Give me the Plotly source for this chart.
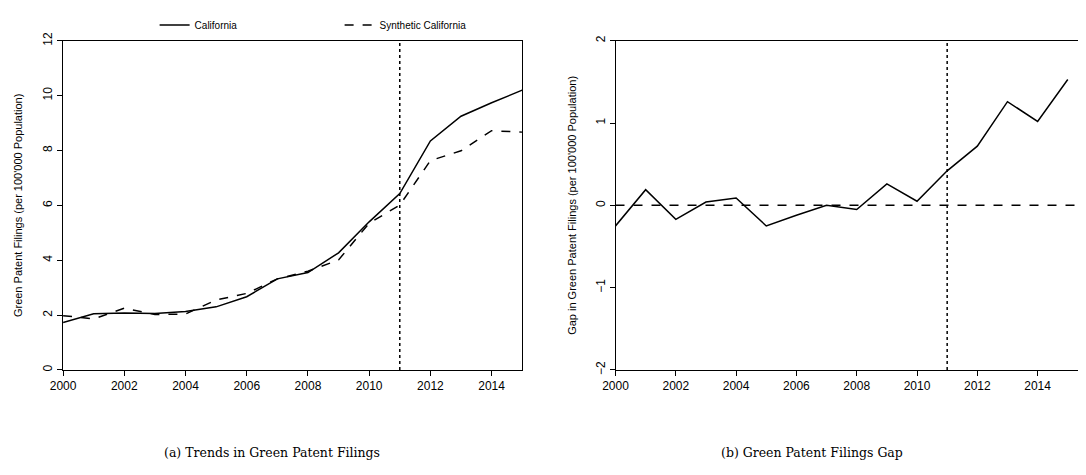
import plotly.graph_objects as go

years = list(range(2000, 2016))
california = [1.73, 2.05, 2.08, 2.06, 2.13, 2.30, 2.67, 3.32, 3.55, 4.27, 5.40, 6.43, 8.35, 9.25, 9.74, 10.20]
synthetic = [1.98, 1.86, 2.25, 2.02, 2.04, 2.55, 2.79, 3.32, 3.60, 4.01, 5.35, 6.01, 7.63, 7.99, 8.72, 8.67]
gap = [-0.25, 0.19, -0.17, 0.04, 0.09, -0.25, -0.12, 0.00, -0.05, 0.26, 0.05, 0.42, 0.72, 1.26, 1.02, 1.53]
treat_year = 2011

font = dict(family="Liberation Sans, Arial", size=12, color="black")
fig = go.Figure()

fig.add_trace(go.Scatter(x=years, y=california, mode="lines", name="California",
                         line=dict(color="black", width=1.5), xaxis="x", yaxis="y"))
fig.add_trace(go.Scatter(x=years, y=synthetic, mode="lines", name="Synthetic California",
                         line=dict(color="black", width=1.5, dash="dash"), xaxis="x", yaxis="y"))
fig.add_trace(go.Scatter(x=years, y=gap, mode="lines", showlegend=False,
                         line=dict(color="black", width=1.5), xaxis="x2", yaxis="y2"))

# reference lines
fig.add_shape(type="line", xref="x", yref="y", x0=treat_year, x1=treat_year, y0=0, y1=12,
              line=dict(color="black", width=1.5, dash="dot"))
fig.add_shape(type="line", xref="x2", yref="y2", x0=treat_year, x1=treat_year, y0=-2, y1=2,
              line=dict(color="black", width=1.5, dash="dot"))
fig.add_shape(type="line", xref="x2", yref="y2", x0=2000, x1=2017, y0=0, y1=0,
              line=dict(color="black", width=1.5, dash="dash"))

ax = dict(showgrid=False, zeroline=False, showline=True, linecolor="black", linewidth=1,
          mirror=True, ticks="outside", ticklen=5, tickcolor="black", tickfont=font,
          automargin=False)
fig.update_layout(
    width=1086, height=475, margin=dict(l=0, r=0, t=0, b=0),
    plot_bgcolor="white", paper_bgcolor="white", font=font,
    xaxis=dict(ax, domain=[0.0507, 0.4735], range=[2000, 2015], dtick=2, anchor="y"),
    yaxis=dict(ax, domain=[0.238, 0.931], range=[0, 12], dtick=2, tickangle=-90,
               title=dict(text="Green Patent Filings (per 100'000 Population)", font=dict(size=11), standoff=16)),
    xaxis2=dict(ax, domain=[0.5594, 1.0], range=[2000, 2015.87], dtick=2, anchor="y2"),
    yaxis2=dict(ax, domain=[0.238, 0.931], range=[-2, 2], dtick=1, tickangle=-90, anchor="x2",
                title=dict(text="Gap in Green Patent Filings (per 100'000 Population)", font=dict(size=11), standoff=14)),
    legend=dict(orientation="h", x=0.135, y=0.995, xanchor="left", yanchor="top",
                entrywidth=140, font=dict(size=10), bgcolor="rgba(0,0,0,0)"),
    showlegend=True,
)

cap = dict(family="DejaVu Serif, serif", size=12.5, color="black")
fig.add_annotation(text="(a) Trends in Green Patent Filings", xref="paper", yref="paper",
                   x=0.243, y=0.045, xanchor="center", showarrow=False, font=cap)
fig.add_annotation(text="(b) Green Patent Filings Gap", xref="paper", yref="paper",
                   x=0.74, y=0.045, xanchor="center", showarrow=False, font=cap)

fig.write_html("out.html")
